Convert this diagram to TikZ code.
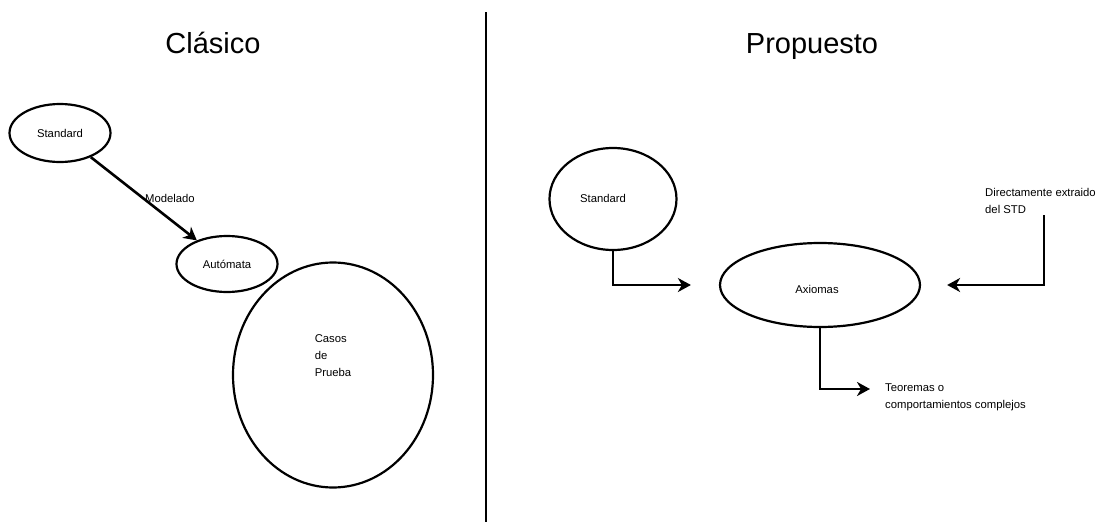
\documentclass[tikz,border=0pt]{standalone}
\usepackage{fontspec}
\setmainfont{Liberation Sans}
\usetikzlibrary{shapes.geometric,arrows.meta}
\begin{document}
\begin{tikzpicture}[x=1pt,y=-1pt,
  every node/.style={inner sep=0pt, font=\fontsize{11.3}{17}\selectfont},
  blob/.style={draw, ellipse, line width=2.2pt},
  title/.style={font=\fontsize{29}{34}\selectfont},
  flow/.style={draw, line width=2.6pt, line join=miter,
    -{Stealth[length=13pt, width=14pt, inset=4pt]}}]
  \useasboundingbox (0,0) rectangle (1098,522);

  % separator between both approaches
  \draw[line width=2.2pt] (486,12) -- (486,522);

  % ---- classic approach ----
  \node[title] (tclas) at (213,43) {Clásico};
  \node[blob, minimum width=101pt, minimum height=58pt] (std1) at (60,133) {Standard};
  \node[blob, minimum width=101pt, minimum height=56pt] (aut) at (227,264) {Autómata};
  \node[blob, minimum width=200pt, minimum height=225pt] (casos) at (333,375) {};
  \node[align=left] (tcasos) at (333,356) {Casos\\de\\Prueba};
  \draw[flow] (std1) -- node[pos=0.5, anchor=west] (lmod) {Modelado} (aut);

  % ---- proposed approach ----
  \node[title] (tprop) at (812,47) {Propuesto};
  \node[blob, minimum width=127pt, minimum height=102pt] (std2) at (613,199) {};
  \node (tstd2) at (603,198) {Standard};
  \node[blob, minimum width=200pt, minimum height=84pt] (ax) at (820,285) {};
  \node (tax) at (817,289) {Axiomas};
  \node[align=left, anchor=west] (dir) at (985,201) {Directamente extraido\\del STD};
  \node[align=left, anchor=west] (teo) at (885,397) {Teoremas o\\comportamientos complejos};

  \coordinate (dsrc) at (1044,215);
  \coordinate (teoin) at (870,389);

  \draw[flow] (std2.south) |- ([xshift=-28pt]ax.west);
  \draw[flow] (dsrc) |- ([xshift=26pt]ax.east);
  \draw[flow] (ax.south) |- (teoin);
\end{tikzpicture}
\end{document}
